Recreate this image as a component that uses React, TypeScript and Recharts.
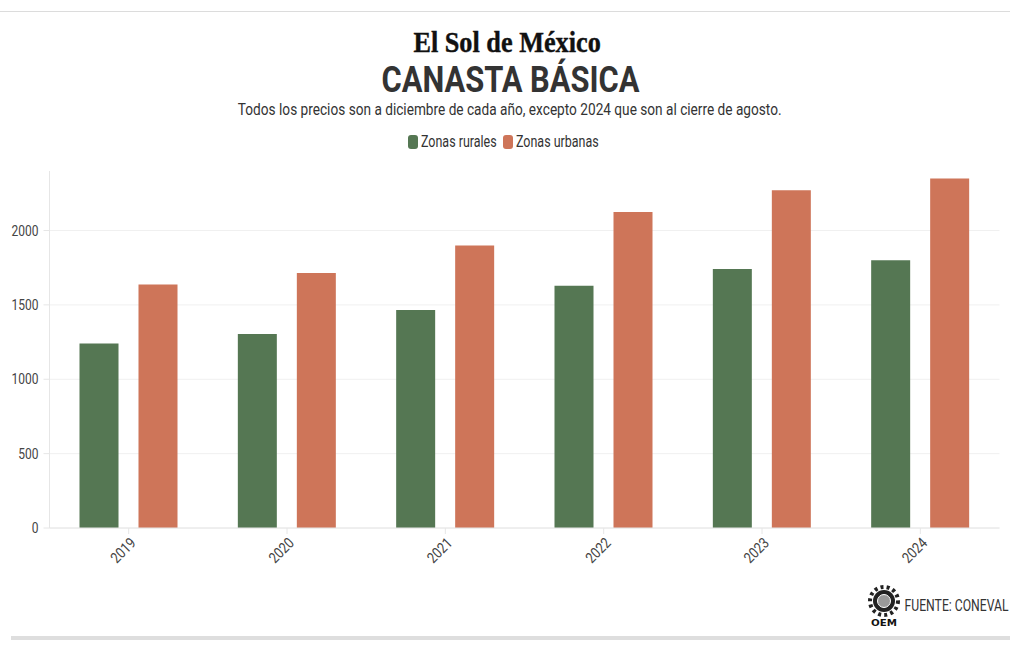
import React from 'react';
import { BarChart, Bar, XAxis, YAxis, CartesianGrid, Legend } from 'recharts';

const YEARS = ['2019', '2020', '2021', '2022', '2023', '2024'];
const RURAL = [1240, 1305, 1465, 1628, 1742, 1800];
const URBAN = [1637, 1715, 1900, 2125, 2270, 2350];
const Y_TICKS = [0, 500, 1000, 1500, 2000];

const GREEN = '#557753';
const ORANGE = '#ce7559';
const FONT = 'Roboto, sans-serif';

const chartData = YEARS.map((year, i) => ({ year, rural: RURAL[i], urban: URBAN[i] }));

// Roboto Condensed no esta instalada: se comprime Roboto a mano
const Squeezed = ({ children, scale = 0.86, style }: any) => (
  <span style={{ display: 'inline-block', transform: `scaleX(${scale})`, whiteSpace: 'nowrap', ...style }}>
    {children}
  </span>
);

const YTick = ({ x, y, payload }: any) => (
  <text transform={`translate(${x - 3},${y + 5}) scale(0.8,1)`} textAnchor="end" fontSize={15} fontFamily={FONT} fill="#444">
    {payload.value}
  </text>
);

const XTick = ({ x, y, payload }: any) => (
  <text
    transform={`translate(${x + 8},${y + 8}) rotate(-45) scale(0.84,1)`}
    textAnchor="end"
    fontSize={15}
    fontFamily={FONT}
    fill="#444"
  >
    {payload.value}
  </text>
);

const LegendContent = ({ payload }: any) => (
  <div style={{ display: 'flex', justifyContent: 'center', gap: 7, fontFamily: FONT, fontSize: 16, color: '#333' }}>
    {payload.map((entry: any) => (
      <div key={entry.value} style={{ display: 'flex', alignItems: 'center', gap: 3 }}>
        <span style={{ width: 10, height: 14, borderRadius: 3, background: entry.color }} />
        <span style={{ display: 'inline-block', width: 75, lineHeight: '16px' }}>
          <Squeezed scale={0.78} style={{ transformOrigin: 'left center' }}>{entry.value}</Squeezed>
        </span>
      </div>
    ))}
  </div>
);

const OemMark = () => (
  <svg width={34} height={44} style={{ position: 'absolute', left: 867, top: 584 }}>
    <circle cx={17} cy={17} r={11} fill="#222" />
    <circle cx={17} cy={17} r={14} fill="none" stroke="#222" strokeWidth={4} strokeDasharray="3 3.2" />
    <circle cx={17} cy={17} r={6.5} fill="#999" stroke="#fff" strokeWidth={1} />
    <text x={17} y={42} textAnchor="middle" fontSize={9} fontWeight={900} fontFamily="DejaVu Sans" fill="#111" textLength={26} lengthAdjust="spacingAndGlyphs">
      OEM
    </text>
  </svg>
);

const centered = (top: number): React.CSSProperties => ({
  position: 'absolute',
  left: 0,
  width: 1020,
  top,
  textAlign: 'center',
  fontFamily: FONT,
});

export default function App() {
  return (
    <div style={{ position: 'absolute', left: 0, top: 0, width: 1020, height: 650, background: '#fff', overflow: 'hidden' }}>
      <div style={{ position: 'absolute', left: 0, top: 11, width: 1010, height: 1, background: '#dcdcdc' }} />
      <div style={{ position: 'absolute', left: 11, top: 636, width: 999, height: 4, background: '#dedede' }} />

      <div style={{ ...centered(25), left: -3, fontFamily: '"Liberation Serif", serif', fontWeight: 700, fontSize: 30, lineHeight: '34px', color: '#111', WebkitTextStroke: '0.4px #111' }}>
        <Squeezed scale={0.875}>El Sol de México</Squeezed>
      </div>
      <div style={{ ...centered(59), fontWeight: 700, fontSize: 36, lineHeight: '42px', color: '#333' }}>
        <Squeezed scale={0.857}>CANASTA BÁSICA</Squeezed>
      </div>
      <div style={{ ...centered(101), fontSize: 16, lineHeight: '18px', color: '#333' }}>
        <Squeezed scale={0.853}>Todos los precios son a diciembre de cada año, excepto 2024 que son al cierre de agosto.</Squeezed>
      </div>

      <BarChart
        width={1020}
        height={650}
        data={chartData}
        margin={{ top: 171, right: 20.5, bottom: 62, left: 0 }}
        barSize={39}
        barGap={20}
      >
        <CartesianGrid vertical={false} stroke="#f0f0f0" syncWithTicks />
        <XAxis dataKey="year" interval={0} height={60} stroke="#e6e6e6" tickSize={6} tick={<XTick />} />
        <YAxis
          domain={[0, 2400]}
          ticks={Y_TICKS}
          width={49.5}
          stroke="#e6e6e6"
          tickSize={6}
          tick={<YTick />}
        />
        <Legend
          verticalAlign="middle"
          align="center"
          content={<LegendContent />}
          wrapperStyle={{ position: 'absolute', left: -11, width: 1020, top: 134 }}
        />
        <Bar dataKey="rural" name="Zonas rurales" fill={GREEN} isAnimationActive={false} />
        <Bar dataKey="urban" name="Zonas urbanas" fill={ORANGE} isAnimationActive={false} />
      </BarChart>

      <OemMark />
      <div style={{ position: 'absolute', right: 11, top: 597, fontFamily: FONT, fontSize: 16, lineHeight: '18px', color: '#333' }}>
        <Squeezed scale={0.762} style={{ transformOrigin: 'right center' }}>FUENTE: CONEVAL</Squeezed>
      </div>
    </div>
  );
}
